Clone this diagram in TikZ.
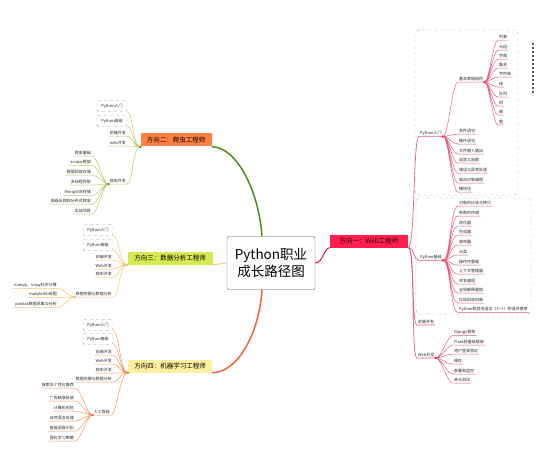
\documentclass[tikz,border=0pt]{standalone}
\usepackage{fontspec}
\newfontfamily\cjk{Noto Sans CJK SC}
\usepackage{xcolor}
\usetikzlibrary{positioning}
\definecolor{webred}{HTML}{FF1E4E}
\definecolor{webline}{HTML}{E4607E}
\definecolor{spiderfill}{HTML}{FF8040}
\definecolor{spiderline}{HTML}{C2C468}
\definecolor{spidertrunk}{HTML}{4E8A1C}
\definecolor{datafill}{HTML}{D8E850}
\definecolor{dataline}{HTML}{F6C270}
\definecolor{mlfill}{HTML}{FFF0A0}
\definecolor{mlline}{HTML}{F09A62}
\definecolor{mltrunk}{HTML}{F0603A}

\begin{document}
\begin{tikzpicture}[
    x=1pt, y=-1pt,
    rootbox/.style={draw=gray!70!black, fill=white, rounded corners=2pt,
        minimum width=88pt, minimum height=53pt, align=center, inner sep=2pt,
        font=\cjk\fontsize{13.5}{17}\selectfont},
    dir/.style={minimum height=13pt, inner sep=2pt, font=\cjk\fontsize{6.5}{8}\selectfont},
    leaf/.style={font=\cjk\fontsize{4}{5}\selectfont, inner sep=1pt, text=black!85},
    lbox/.style={leaf, draw=gray!80, dashed, rounded corners=2pt,
        minimum width=30pt, minimum height=11pt},
    grp/.style={draw=gray!70, dashed, rounded corners=4pt},
    dot/.style={circle, fill, inner sep=0pt, minimum size=2.5pt},
    lkw/.style={webline, line width=0.5pt},
    lks/.style={spiderline, line width=0.5pt},
    lkd/.style={dataline, line width=0.5pt},
    lkm/.style={mlline, line width=0.5pt},
]
\useasboundingbox (0,0) rectangle (546,465);

% ===== ROOT =====
\node[rootbox] (root) at (271,263) {Python职业\\成长路径图};

\node[dir, fill=webred, text=black!80!red, minimum width=78pt] (w1) at (369,241) {方向一：Web工程师};
\node[dir, fill=spiderfill, minimum width=71pt] (s2) at (176,140) {方向二：爬虫工程师};
\node[dir, fill=datafill, minimum width=85pt] (d3) at (170,258) {方向三：数据分析工程师};
\node[dir, fill=mlfill, minimum width=84pt] (m4) at (170,366) {方向四：机器学习工程师};

\draw[webred!85!black, line width=1pt] (root.east) .. controls +(8,0) and +(-6,0) .. (w1.south west);
\draw[spidertrunk, line width=1.5pt] ([xshift=-9pt]root.north) .. controls +(-3,-45) and +(25,0) .. (s2.south east);
\draw[dataline, line width=0.8pt] (root.west) .. controls +(-6,0) and +(6,0) .. (d3.south east);
\draw[mltrunk, line width=1.5pt] ([xshift=-9pt]root.south) .. controls +(-3,45) and +(25,0) .. (m4.south east);

% ===== DIRECTION 1: WEB =====
\draw[grp] (415,30) rectangle (518,195);
\draw[grp] (416,198) rectangle (531,314);
\draw[gray!70!black, line width=2.5pt, dash pattern=on 2.5pt off 1.5pt] (533,43) -- (533,95);

\node[leaf, anchor=west] (py1) at (419,133) {Python入门};
\node[leaf, anchor=west] (ds) at (458,79) {基本数据结构};
\node[leaf, anchor=west] (ds1) at (498,37) {列表};
\node[leaf, anchor=west] (ds2) at (498,47) {元组};
\node[leaf, anchor=west] (ds3) at (498,56) {字典};
\node[leaf, anchor=west] (ds4) at (498,65) {集合};
\node[leaf, anchor=west] (ds5) at (498,74) {字符串};
\node[leaf, anchor=west] (ds6) at (498,84) {栈};
\node[leaf, anchor=west] (ds7) at (498,94) {队列};
\node[leaf, anchor=west] (ds8) at (498,103) {树};
\node[leaf, anchor=west] (ds9) at (498,112) {链};
\node[leaf, anchor=west] (ds10) at (498,122) {图};
\node[leaf, anchor=west] (pa1) at (458,131) {条件语句};
\node[leaf, anchor=west] (pa2) at (458,141) {循环语句};
\node[leaf, anchor=west] (pa3) at (458,151) {文件输入输出};
\node[leaf, anchor=west] (pa4) at (458,160) {自定义函数};
\node[leaf, anchor=west] (pa5) at (458,170) {错误与异常处理};
\node[leaf, anchor=west] (pa6) at (458,180) {面向对象编程};
\node[leaf, anchor=west] (pa7) at (458,189) {模块化};

\node[leaf, anchor=west] (pyb) at (419,257) {Python基础};
\node[leaf, anchor=west] (pb1) at (458,203) {对象的比较与拷贝};
\node[leaf, anchor=west] (pb2) at (458,213) {参数的传递};
\node[leaf, anchor=west] (pb3) at (458,223) {迭代器};
\node[leaf, anchor=west] (pb4) at (458,232) {生成器};
\node[leaf, anchor=west] (pb5) at (458,242) {装饰器};
\node[leaf, anchor=west] (pb6) at (458,252) {元类};
\node[leaf, anchor=west] (pb7) at (458,262) {操作符重载};
\node[leaf, anchor=west] (pb8) at (458,271) {上下文管理器};
\node[leaf, anchor=west] (pb9) at (458,281) {并发编程};
\node[leaf, anchor=west] (pb10) at (458,290) {全局解释器锁};
\node[leaf, anchor=west] (pb11) at (458,300) {垃圾回收机制};
\node[leaf, anchor=west] (pb12) at (458,309) {Python和其他语言（C++）的混合使用};

\node[leaf, anchor=west] (fe1) at (417,322) {前端开发};
\node[leaf, anchor=west] (wb1) at (417,355) {Web开发};
\node[leaf, anchor=west] (wb11) at (453,332) {Django框架};
\node[leaf, anchor=west] (wb12) at (453,342) {Flask轻量级框架};
\node[leaf, anchor=west] (wb13) at (453,351) {用户登录验证};
\node[leaf, anchor=west] (wb14) at (453,361) {缓存};
\node[leaf, anchor=west] (wb15) at (453,371) {部署和监控};
\node[leaf, anchor=west] (wb16) at (453,380) {单元测试};

\draw[lkw, line width=0.7pt]
    (w1.south east) .. controls +(7,0) and +(-6,0) .. (py1.south west) -- (py1.south east)
    (w1.south east) .. controls +(7,0) and +(-6,0) .. (pyb.south west) -- (pyb.south east)
    (w1.south east) .. controls +(7,0) and +(-6,0) .. (fe1.south west) -- (fe1.south east)
    (w1.south east) .. controls +(7,0) and +(-6,0) .. (wb1.south west) -- (wb1.south east);
\draw[lkw]
    (py1.south east) .. controls +(6,0) and +(-6,0) .. (ds.south west) -- (ds.south east)
    (py1.south east) .. controls +(6,0) and +(-6,0) .. (pa1.south west) -- (pa1.south east)
    (py1.south east) .. controls +(6,0) and +(-6,0) .. (pa2.south west) -- (pa2.south east)
    (py1.south east) .. controls +(6,0) and +(-6,0) .. (pa3.south west) -- (pa3.south east)
    (py1.south east) .. controls +(6,0) and +(-6,0) .. (pa4.south west) -- (pa4.south east)
    (py1.south east) .. controls +(6,0) and +(-6,0) .. (pa5.south west) -- (pa5.south east)
    (py1.south east) .. controls +(6,0) and +(-6,0) .. (pa6.south west) -- (pa6.south east)
    (py1.south east) .. controls +(6,0) and +(-6,0) .. (pa7.south west) -- (pa7.south east);
\draw[lkw]
    (ds.south east) .. controls +(5,0) and +(-5,0) .. (ds1.south west) -- (ds1.south east)
    (ds.south east) .. controls +(5,0) and +(-5,0) .. (ds2.south west) -- (ds2.south east)
    (ds.south east) .. controls +(5,0) and +(-5,0) .. (ds3.south west) -- (ds3.south east)
    (ds.south east) .. controls +(5,0) and +(-5,0) .. (ds4.south west) -- (ds4.south east)
    (ds.south east) .. controls +(5,0) and +(-5,0) .. (ds5.south west) -- (ds5.south east)
    (ds.south east) .. controls +(5,0) and +(-5,0) .. (ds6.south west) -- (ds6.south east)
    (ds.south east) .. controls +(5,0) and +(-5,0) .. (ds7.south west) -- (ds7.south east)
    (ds.south east) .. controls +(5,0) and +(-5,0) .. (ds8.south west) -- (ds8.south east)
    (ds.south east) .. controls +(5,0) and +(-5,0) .. (ds9.south west) -- (ds9.south east)
    (ds.south east) .. controls +(5,0) and +(-5,0) .. (ds10.south west) -- (ds10.south east);
\draw[lkw]
    (pyb.south east) .. controls +(8,0) and +(-8,0) .. (pb1.south west) -- (pb1.south east)
    (pyb.south east) .. controls +(8,0) and +(-8,0) .. (pb2.south west) -- (pb2.south east)
    (pyb.south east) .. controls +(8,0) and +(-8,0) .. (pb3.south west) -- (pb3.south east)
    (pyb.south east) .. controls +(8,0) and +(-8,0) .. (pb4.south west) -- (pb4.south east)
    (pyb.south east) .. controls +(8,0) and +(-8,0) .. (pb5.south west) -- (pb5.south east)
    (pyb.south east) .. controls +(8,0) and +(-8,0) .. (pb6.south west) -- (pb6.south east)
    (pyb.south east) .. controls +(8,0) and +(-8,0) .. (pb7.south west) -- (pb7.south east)
    (pyb.south east) .. controls +(8,0) and +(-8,0) .. (pb8.south west) -- (pb8.south east)
    (pyb.south east) .. controls +(8,0) and +(-8,0) .. (pb9.south west) -- (pb9.south east)
    (pyb.south east) .. controls +(8,0) and +(-8,0) .. (pb10.south west) -- (pb10.south east)
    (pyb.south east) .. controls +(8,0) and +(-8,0) .. (pb11.south west) -- (pb11.south east)
    (pyb.south east) .. controls +(8,0) and +(-8,0) .. (pb12.south west) -- (pb12.south east);
\draw[lkw]
    (wb1.south east) .. controls +(6,0) and +(-6,0) .. (wb11.south west) -- (wb11.south east)
    (wb1.south east) .. controls +(6,0) and +(-6,0) .. (wb12.south west) -- (wb12.south east)
    (wb1.south east) .. controls +(6,0) and +(-6,0) .. (wb13.south west) -- (wb13.south east)
    (wb1.south east) .. controls +(6,0) and +(-6,0) .. (wb14.south west) -- (wb14.south east)
    (wb1.south east) .. controls +(6,0) and +(-6,0) .. (wb15.south west) -- (wb15.south east)
    (wb1.south east) .. controls +(6,0) and +(-6,0) .. (wb16.south west) -- (wb16.south east);
\node[dot, webred] at (py1.south east) {};
\node[dot, webred] at (ds.south east) {};
\node[dot, webred] at (pyb.south east) {};
\node[dot, webred] at (wb1.south east) {};

% ===== DIRECTION 2: SPIDER =====
\node[lbox] (s2a) at (112,106) {Python入门};
\node[lbox] (s2b) at (112,121) {Python高级};
\node[leaf, anchor=east] (s2c) at (127,133) {前端开发};
\node[leaf, anchor=east] (s2d) at (127,143) {web开发};
\node[leaf, anchor=east] (s2e) at (127,181) {爬虫开发};
\node[leaf, anchor=east] (s2e1) at (92,153) {爬虫基础};
\node[leaf, anchor=east] (s2e2) at (92,162) {scrapy框架};
\node[leaf, anchor=east] (s2e3) at (92,172) {数据抓取存储};
\node[leaf, anchor=east] (s2e4) at (92,182) {多线程抓取};
\node[leaf, anchor=east] (s2e5) at (92,192) {MongoDB存储};
\node[leaf, anchor=east] (s2e6) at (92,201) {高级反爬和分布式爬虫};
\node[leaf, anchor=east] (s2e7) at (92,211) {实战项目};

\draw[lks]
    (s2.south west) .. controls +(-8,0) and +(6,0) .. (s2a.south east)
    (s2.south west) .. controls +(-8,0) and +(6,0) .. (s2b.south east)
    (s2.south west) .. controls +(-8,0) and +(6,0) .. (s2c.south east) -- (s2c.south west)
    (s2.south west) .. controls +(-8,0) and +(6,0) .. (s2d.south east) -- (s2d.south west)
    (s2.south west) .. controls +(-8,0) and +(6,0) .. (s2e.south east) -- (s2e.south west);
\draw[lks]
    (s2e.south west) .. controls +(-6,0) and +(6,0) .. (s2e1.south east) -- (s2e1.south west)
    (s2e.south west) .. controls +(-6,0) and +(6,0) .. (s2e2.south east) -- (s2e2.south west)
    (s2e.south west) .. controls +(-6,0) and +(6,0) .. (s2e3.south east) -- (s2e3.south west)
    (s2e.south west) .. controls +(-6,0) and +(6,0) .. (s2e4.south east) -- (s2e4.south west)
    (s2e.south west) .. controls +(-6,0) and +(6,0) .. (s2e5.south east) -- (s2e5.south west)
    (s2e.south west) .. controls +(-6,0) and +(6,0) .. (s2e6.south east) -- (s2e6.south west)
    (s2e.south west) .. controls +(-6,0) and +(6,0) .. (s2e7.south east) -- (s2e7.south west);
\node[dot, spidertrunk] at (s2.south west) {};
\node[dot, spidertrunk] at (s2e.south west) {};

% ===== DIRECTION 3: DATA ANALYSIS =====
\node[lbox] (d3a) at (98,230) {Python入门};
\node[lbox] (d3b) at (98,245) {Python高级};
\node[leaf, anchor=east] (d3c) at (113,257) {前端开发};
\node[leaf, anchor=east] (d3d) at (113,266) {Web开发};
\node[leaf, anchor=east] (d3e) at (113,274) {爬虫开发};
\node[leaf, anchor=east] (d3f) at (113,294) {数据挖掘与数据分析};
\node[leaf, anchor=east] (d3f1) at (58,285) {numpy、scipy科学计算};
\node[leaf, anchor=east] (d3f2) at (58,294) {matplotlib绘图};
\node[leaf, anchor=east] (d3f3) at (58,304) {pandas数据采集与分析};

\draw[lkd]
    (d3.south west) .. controls +(-8,0) and +(6,0) .. (d3a.south east)
    (d3.south west) .. controls +(-8,0) and +(6,0) .. (d3b.south east)
    (d3.south west) .. controls +(-8,0) and +(6,0) .. (d3c.south east) -- (d3c.south west)
    (d3.south west) .. controls +(-8,0) and +(6,0) .. (d3d.south east) -- (d3d.south west)
    (d3.south west) .. controls +(-8,0) and +(6,0) .. (d3e.south east) -- (d3e.south west)
    (d3.south west) .. controls +(-8,0) and +(6,0) .. (d3f.south east) -- (d3f.south west);
\draw[lkd]
    (d3f.south west) .. controls +(-6,0) and +(6,0) .. (d3f1.south east) -- (d3f1.south west)
    (d3f.south west) .. controls +(-6,0) and +(6,0) .. (d3f2.south east) -- (d3f2.south west)
    (d3f.south west) .. controls +(-6,0) and +(6,0) .. (d3f3.south east) -- (d3f3.south west);
\node[dot, dataline] at (d3.south west) {};
\node[dot, dataline] at (d3f.south west) {};

% ===== DIRECTION 4: MACHINE LEARNING =====
\node[lbox] (m4a) at (98,325) {Python入门};
\node[lbox] (m4b) at (98,339) {Python高级};
\node[leaf, anchor=east] (m4c) at (113,352) {前端开发};
\node[leaf, anchor=east] (m4d) at (113,361) {Web开发};
\node[leaf, anchor=east] (m4e) at (113,370) {爬虫开发};
\node[leaf, anchor=east] (m4f) at (113,379) {数据挖掘与数据分析};
\node[leaf, anchor=east] (m4g) at (111,412) {人工智能};
\node[leaf, anchor=east] (m4g1) at (75,385) {搜索及个性化推荐};
\node[leaf, anchor=east] (m4g2) at (75,398) {广告精准投放};
\node[leaf, anchor=east] (m4g3) at (75,408) {计算机视觉};
\node[leaf, anchor=east] (m4g4) at (75,418) {自然语言处理};
\node[leaf, anchor=east] (m4g5) at (75,428) {智能语音识别};
\node[leaf, anchor=east] (m4g6) at (75,438) {强化学习策略};

\draw[lkm]
    (m4.south west) .. controls +(-8,0) and +(6,0) .. (m4a.south east)
    (m4.south west) .. controls +(-8,0) and +(6,0) .. (m4b.south east)
    (m4.south west) .. controls +(-8,0) and +(6,0) .. (m4c.south east) -- (m4c.south west)
    (m4.south west) .. controls +(-8,0) and +(6,0) .. (m4d.south east) -- (m4d.south west)
    (m4.south west) .. controls +(-8,0) and +(6,0) .. (m4e.south east) -- (m4e.south west)
    (m4.south west) .. controls +(-8,0) and +(6,0) .. (m4f.south east) -- (m4f.south west)
    (m4.south west) .. controls +(-8,0) and +(6,0) .. (m4g.south east) -- (m4g.south west);
\draw[lkm]
    (m4g.south west) .. controls +(-6,0) and +(6,0) .. (m4g1.south east) -- (m4g1.south west)
    (m4g.south west) .. controls +(-6,0) and +(6,0) .. (m4g2.south east) -- (m4g2.south west)
    (m4g.south west) .. controls +(-6,0) and +(6,0) .. (m4g3.south east) -- (m4g3.south west)
    (m4g.south west) .. controls +(-6,0) and +(6,0) .. (m4g4.south east) -- (m4g4.south west)
    (m4g.south west) .. controls +(-6,0) and +(6,0) .. (m4g5.south east) -- (m4g5.south west)
    (m4g.south west) .. controls +(-6,0) and +(6,0) .. (m4g6.south east) -- (m4g6.south west);
\node[dot, mltrunk] at (m4.south west) {};
\node[dot, mltrunk] at (m4g.south west) {};

\end{tikzpicture}
\end{document}
